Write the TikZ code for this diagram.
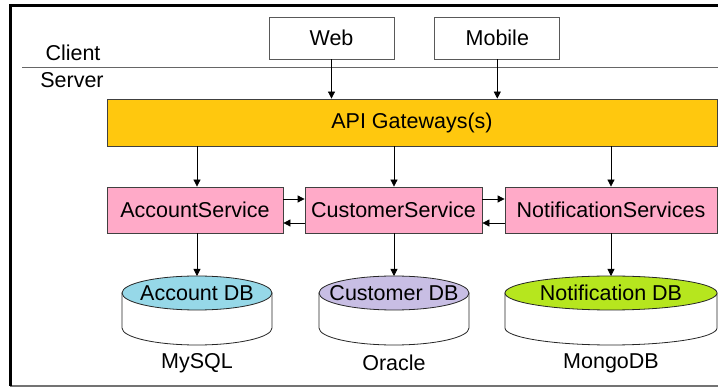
\documentclass[tikz,border=0pt]{standalone}
\usepackage{fontspec}
\setmainfont{Liberation Sans}
\usepackage{xcolor}
\usepackage{tikz}
\usetikzlibrary{arrows.meta}
\usetikzlibrary{positioning}
\definecolor{gwyellow}{RGB}{255,200,14}
\definecolor{svcpink}{RGB}{255,170,200}
\definecolor{acctblue}{RGB}{150,216,232}
\definecolor{custlilac}{RGB}{200,190,228}
\definecolor{notelime}{RGB}{182,230,30}
\newcommand{\lbl}{\fontsize{21.5}{25}\selectfont}

\begin{document}
\begin{tikzpicture}[x=1pt,y=1pt,
    every node/.style={font=\lbl},
    clientbox/.style={draw=black!65, line width=0.8pt, minimum width=125pt, minimum height=42pt, inner sep=0pt},
    svcbox/.style={draw=black!75, line width=0.8pt, fill=svcpink, minimum height=46pt, inner sep=0pt},
    arr/.style={-{Triangle[length=7pt,width=7pt]}, line width=0.8pt}]
  \useasboundingbox (0,0) rectangle (718,388);
  % frame and client/server split
  \draw[black!55, line width=1.5pt] (10,2) -- (718,2);
  \draw[line width=3pt] (10,2) -- (10,382) -- (718,382);
  \draw[black!60, line width=0.8pt] (22,321) -- (718,321);
  \node (client) at (73,335) {Client};
  \node (server) at (72,308) {Server};
  % clients
  \node[clientbox] (web) at (331.5,350) {Web};
  \node[clientbox, right=40pt of web] (mobile) {Mobile};
  % gateway
  \node[draw=black!75, line width=0.8pt, fill=gwyellow, minimum width=610pt, minimum height=47pt, inner sep=0pt] (gw) at (412,265.5) {API Gateways(s)};
  % services
  \node[svcbox, minimum width=176pt] (acc) at (195,178) {AccountService};
  \node[svcbox, minimum width=177pt] (cust) at (393.5,178) {CustomerService};
  \node[svcbox, minimum width=212pt] (note) at (611,178) {NotificationServices};
  % databases
  \foreach \n/\x/\rx/\col/\txt/\eng in {adb/197/75/acctblue/Account DB/MySQL,
      cdb/394/75/custlilac/Customer DB/Oracle,
      ndb/611/106/notelime/Notification DB/MongoDB} {
    \filldraw[fill=white, draw=black!85, line width=0.8pt] (\x-\rx,95) -- (\x-\rx,60)
      arc[start angle=180, end angle=360, x radius=\rx, y radius=17] -- (\x+\rx,95) -- cycle;
    \filldraw[fill=\col, draw=black!85, line width=0.8pt] (\x,95) ellipse[x radius=\rx, y radius=17];
    \node (\n) at (\x,95) {\txt};
    \coordinate (\n-top) at (\x,112);
    \node (\n-eng) at (\x,25) {\eng};
  }
  % connectors
  \draw[arr] (web.south) -- (web.south |- gw.north);
  \draw[arr] (mobile.south) -- (mobile.south |- gw.north);
  \draw[arr] (gw.south -| adb) -- (acc.north -| adb);
  \draw[arr] (gw.south -| cdb) -- (cust.north -| cdb);
  \draw[arr] (gw.south -| ndb) -- (note.north -| ndb);
  \draw[arr] ([yshift=11pt]acc.east) -- ([yshift=11pt]cust.west);
  \draw[arr] ([yshift=-13pt]cust.west) -- ([yshift=-13pt]acc.east);
  \draw[arr] ([yshift=11pt]cust.east) -- ([yshift=11pt]note.west);
  \draw[arr] ([yshift=-13pt]note.west) -- ([yshift=-13pt]cust.east);
  \draw[arr] (acc.south -| adb) -- (adb-top);
  \draw[arr] (cust.south -| cdb) -- (cdb-top);
  \draw[arr] (note.south -| ndb) -- (ndb-top);
\end{tikzpicture}
\end{document}
